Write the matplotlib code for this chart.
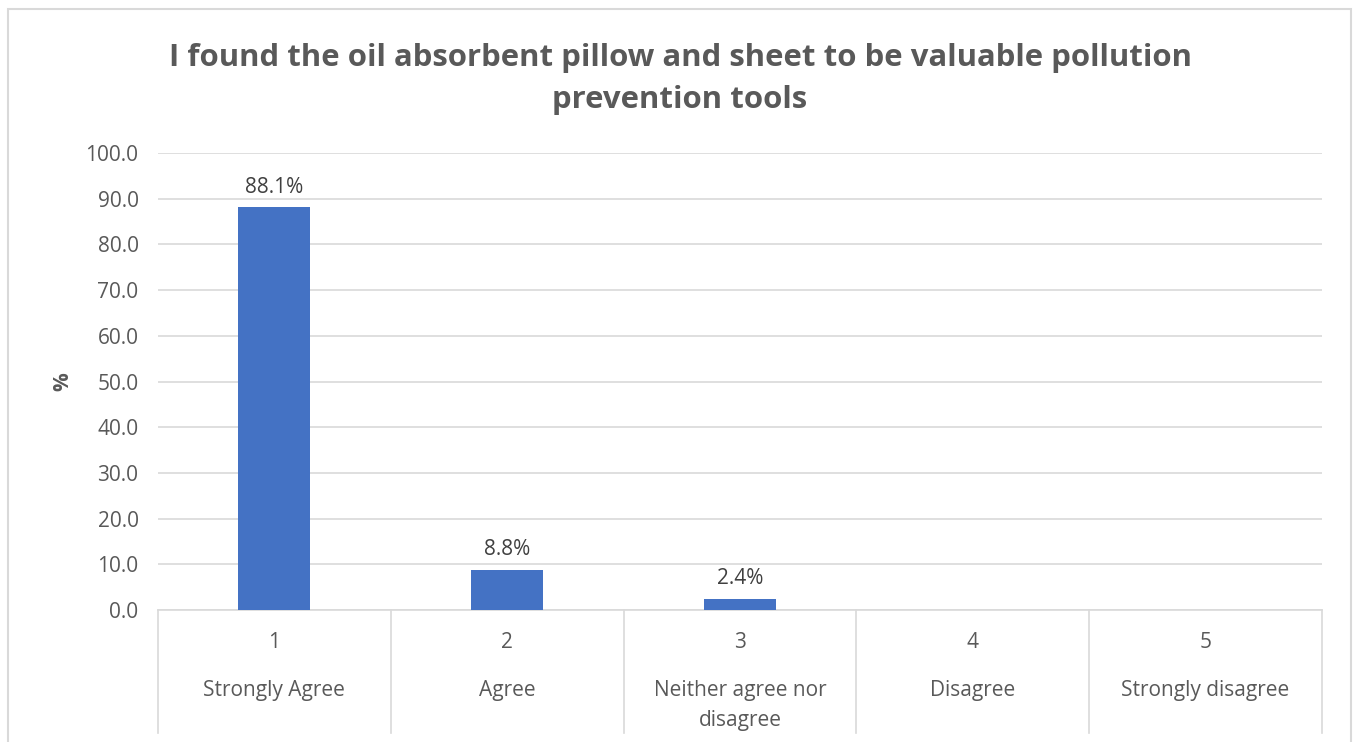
import matplotlib.pyplot as plt
from matplotlib.patches import Rectangle
import matplotlib.transforms as mtransforms

# Data
codes = ["1", "2", "3", "4", "5"]
categories = ["Strongly Agree", "Agree", "Neither agree nor\ndisagree", "Disagree", "Strongly disagree"]
values = [88.1, 8.8, 2.4, 0, 0]
labels = ["88.1%", "8.8%", "2.4%", "", ""]
yticks = [0, 10, 20, 30, 40, 50, 60, 70, 80, 90, 100]

text_color = "#595959"
grid_color = "#D9D9D9"
bar_color = "#4472C4"

plt.rcParams['font.family'] = ['Open Sans', 'DejaVu Sans']

fig = plt.figure(figsize=(13.54, 7.42), dpi=100)
ax = fig.add_axes([158/1354, 1 - 610/742, (1322-158)/1354, (610-153)/742])

x = list(range(len(codes)))
ax.bar(x, values, width=0.31, color=bar_color, zorder=3)

# data labels
for xi, v, lab in zip(x, values, labels):
    if lab:
        ax.annotate(lab, (xi, v), xytext=(0, 7), textcoords="offset points",
                    ha="center", va="bottom", fontsize=15, color="#404040")

ax.set_xlim(-0.5, len(codes) - 0.5)
ax.set_ylim(0, 100)
ax.set_yticks(yticks)
ax.set_yticklabels([f"{t:.1f}" for t in yticks])
ax.tick_params(axis="y", length=0, pad=14, labelsize=15, labelcolor=text_color)
ax.set_xticks([])
ax.grid(axis="y", color=grid_color, linewidth=1.2, zorder=0)
for s in ["left", "right", "top"]:
    ax.spines[s].set_visible(False)
ax.spines["bottom"].set_color(grid_color)
ax.spines["bottom"].set_linewidth(1.2)

ax.set_ylabel("%", fontsize=15, fontweight="bold", color=text_color, labelpad=9)

# multi-level category axis
trans = mtransforms.blended_transform_factory(ax.transData, ax.transAxes)
bottom = -(733 - 610) / (610 - 153)
for b in [i - 0.5 for i in range(len(codes) + 1)]:
    ax.plot([b, b], [0, bottom], transform=trans, color=grid_color,
            linewidth=1.2, clip_on=False)
for xi, c, cat in zip(x, codes, categories):
    ax.text(xi, -(643 - 610) / 457, c, transform=trans, ha="center", va="center",
            fontsize=15, color=text_color)
    ax.text(xi, -(680 - 610) / 457, cat, transform=trans, ha="center", va="top",
            fontsize=15, color=text_color, linespacing=1.55)

fig.suptitle("I found the oil absorbent pillow and sheet to be valuable pollution\nprevention tools",
             x=680/1354, y=1 - 79/742, va="center", fontsize=22.4, fontweight="bold",
             color=text_color, linespacing=1.48)

# chart border
fig.patches.append(Rectangle((8/1354, -0.02), (1351-8)/1354, 1.02 - 9/742,
                             transform=fig.transFigure, fill=False,
                             edgecolor=grid_color, linewidth=1.5))

plt.savefig("out.png", dpi=100)
